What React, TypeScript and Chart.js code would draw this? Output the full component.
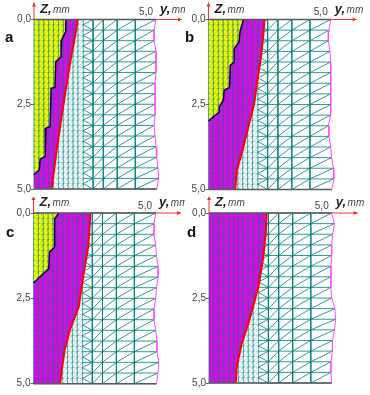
import React, { useEffect, useRef } from "react";
import { Chart, registerables } from "chart.js";

Chart.register(...registerables);

const zTicks = [0, 2.5, 5];
const yTicks = [5];

const fineCols = [0, 0.2, 0.4, 0.6, 0.8, 1.0, 1.2, 1.4, 1.6, 1.8, 2.02];
const coarseCols = [2.42, 2.84, 3.41, 4.15];
const coarseRows = [0, 0.3125, 0.625, 0.9375, 1.25, 1.5625, 1.875, 2.1875, 2.5, 2.8125, 3.125, 3.4375, 3.75, 4.0625, 4.375, 4.6875, 5];

const edgeA = [5.0, 4.92, 4.92, 5.0, 5.0, 5.0, 4.96, 4.96, 4.96, 4.96, 4.92, 4.96, 5.0, 5.03, 5.08, 5.11, 5.03];
const edgeB = [5.0, 4.93, 4.9, 4.97, 5.0, 5.0, 5.0, 5.0, 5.0, 5.0, 4.9, 4.93, 5.0, 5.04, 5.11, 5.13, 5.04];
const edgeC = [5.03, 4.96, 4.96, 5.03, 5.06, 5.13, 5.13, 5.06, 5.03, 4.96, 4.96, 5.03, 5.08, 5.08, 5.16, 5.12, 5.06];
const edgeD = [5.0, 5.11, 5.04, 5.0, 5.0, 4.97, 4.97, 4.97, 5.0, 5.13, 5.16, 5.11, 5.03, 5.03, 4.97, 4.97, 5.0];

const redAx = [1.79, 1.68, 1.5, 1.3, 1.13, 0.93, 0.72];
const redAz = [0, 0.51, 1.2, 2.08, 2.87, 3.85, 5];
const redBx = [2.29, 2.25, 2.15, 2.04, 1.87, 1.63, 1.39, 1.16, 1.09];
const redBz = [0, 0.41, 1.1, 1.59, 2.47, 3.16, 3.85, 4.44, 5];
const redCx = [2.34, 2.31, 2.25, 2.04, 1.86, 1.49, 1.28, 1.14, 1.1];
const redCz = [0, 0.41, 1.0, 1.88, 2.75, 3.44, 4.02, 4.71, 5];
const redDx = [2.35, 2.31, 2.21, 2.04, 1.83, 1.6, 1.33, 1.13, 1.09];
const redDz = [0, 0.62, 1.3, 2.08, 2.67, 3.26, 3.85, 4.53, 5];

const navyAx = [1.3, 1.3, 1.13, 1.11, 0.89, 0.86, 0.7, 0.66, 0.49, 0.46, 0.25, 0.22, 0];
const navyAz = [0, 0.36, 0.61, 1.1, 1.25, 2.0, 2.03, 3.16, 3.2, 4.04, 4.12, 4.43, 4.58];
const navyBx = [1.43, 1.29, 1.25, 1.06, 1.05, 0.89, 0.86, 0.64, 0.61, 0.44, 0.44, 0];
const navyBz = [0, 0.36, 0.66, 0.85, 1.25, 1.35, 2.0, 2.08, 2.37, 2.57, 2.72, 2.98];
const navyCx = [1.05, 0.87, 0.87, 0.66, 0.63, 0];
const navyCz = [0, 0.17, 1.0, 1.14, 1.63, 2.05];
const navyDx: number[] = [];
const navyDz: number[] = [];

const TEAL = "rgba(0,128,128,0.8)";
const TEAL_FINE = "rgba(0,128,128,0.45)";
const TEAL_DIAG = "rgba(0,128,128,0.55)";
const FONT = "'Liberation Sans', Arial, sans-serif";

type Pt = { x: number; y: number };
const GAP: Pt = { x: NaN, y: NaN };
const zip = (xs: number[], zs: number[]): Pt[] => xs.map((x, i) => ({ x, y: zs[i] }));
type Seg = [number, number, number, number];

function segs(list: Seg[]): Pt[] {
  const out: Pt[] = [];
  list.forEach(([a, b, c, d]) => out.push({ x: a, y: b }, { x: c, y: d }, GAP));
  return out;
}

function fineRowsOf(): number[] {
  const out: number[] = [];
  coarseRows.forEach((r, i) => {
    out.push(r);
    if (i < coarseRows.length - 1) out.push((r + coarseRows[i + 1]) / 2);
  });
  return out;
}

function fineGrid(): Pt[] {
  const s: Seg[] = [];
  const fine = fineRowsOf();
  const lastFine = fineCols[fineCols.length - 1];
  fine.forEach((r) => s.push([0, r, lastFine, r]));
  fineCols.forEach((c) => s.push([c, 0, c, 5]));
  return segs(s);
}

function fineDiagonals(): Pt[] {
  const s: Seg[] = [];
  const fine = fineRowsOf();
  for (let i = 0; i < fineCols.length - 1; i++) {
    for (let j = 0; j < fine.length - 1; j++) {
      s.push([fineCols[i], fine[j + 1], fineCols[i + 1], fine[j]]);
    }
  }
  return segs(s);
}

function coarseGrid(edge: number[]): Pt[] {
  const s: Seg[] = [];
  const lastFine = fineCols[fineCols.length - 1];
  const firstCoarse = coarseCols[0];
  coarseRows.forEach((r, j) => s.push([lastFine, r, edge[j], r]));
  coarseCols.forEach((c) => s.push([c, 0, c, 5]));
  for (let j = 0; j < coarseRows.length - 1; j++) {
    const mid = (coarseRows[j] + coarseRows[j + 1]) / 2;
    s.push([lastFine, mid, firstCoarse, coarseRows[j]]);
    s.push([lastFine, mid, firstCoarse, coarseRows[j + 1]]);
  }
  for (let j = 0; j < coarseRows.length - 1; j++) {
    for (let i = 0; i < coarseCols.length; i++) {
      const nextTop = i + 1 < coarseCols.length ? coarseCols[i + 1] : edge[j];
      s.push([coarseCols[i], coarseRows[j + 1], nextTop, coarseRows[j]]);
    }
  }
  return segs(s);
}

type PanelDef = {
  letter: string;
  left: number;
  top: number;
  w: number;
  h: number;
  area: { l: number; t: number; r: number; b: number };
  letterX: number;
  letterY: number;
  edge: number[];
  redX: number[];
  redZ: number[];
  navyX: number[];
  navyZ: number[];
};

const panels: PanelDef[] = [
  { letter: "a", left: 0, top: 0, w: 185, h: 197, area: { l: 34, t: 19.5, r: 156, b: 189 }, letterX: 5, letterY: 42, edge: edgeA, redX: redAx, redZ: redAz, navyX: navyAx, navyZ: navyAz },
  { letter: "b", left: 185, top: 0, w: 185, h: 197, area: { l: 23.5, t: 19.5, r: 145.7, b: 189.5 }, letterX: 0, letterY: 42, edge: edgeB, redX: redBx, redZ: redBz, navyX: navyBx, navyZ: navyBz },
  { letter: "c", left: 0, top: 197, w: 185, h: 198, area: { l: 33.5, t: 16, r: 155, b: 186.7 }, letterX: 6, letterY: 40, edge: edgeC, redX: redCx, redZ: redCz, navyX: navyCx, navyZ: navyCz },
  { letter: "d", left: 185, top: 197, w: 185, h: 198, area: { l: 24, t: 16, r: 146.7, b: 186 }, letterX: 2, letterY: 40, edge: edgeD, redX: redDx, redZ: redDz, navyX: navyDx, navyZ: navyDz },
];

function buildDatasets(p: PanelDef) {
  const redPts = zip(p.redX, p.redZ);
  const navyPts = zip(p.navyX, p.navyZ);
  const magentaPoly: Pt[] = navyPts.length
    ? [...navyPts, { x: 0, y: 5 }, ...[...redPts].reverse()]
    : [{ x: 0, y: 0 }, ...redPts, { x: 0, y: 5 }];
  const yellowPoly: Pt[] = navyPts.length ? [{ x: 0, y: 0 }, ...navyPts] : [];
  const edgePts = zip(p.edge, coarseRows);
  const last = p.edge.length - 1;
  const frame = segs([
    [0, 0, p.edge[0], 0],
    [0, 5, p.edge[last], 5],
  ]);
  const base = { showLine: true, pointRadius: 0, tension: 0, clip: false as any, spanGaps: false };
  const sets: any[] = [
    { ...base, label: "plastic", data: yellowPoly, fill: "shape", backgroundColor: "#ffff00", borderWidth: 0 },
    { ...base, label: "elastic", data: magentaPoly, fill: "shape", backgroundColor: "#ee00ee", borderWidth: 0 },
    { ...base, label: "fine grid", data: fineGrid(), fill: false, borderColor: TEAL_FINE, borderWidth: 0.7 },
    { ...base, label: "fine diagonals", data: fineDiagonals(), fill: false, borderColor: TEAL_DIAG, borderWidth: 0.6 },
    { ...base, label: "coarse grid", data: coarseGrid(p.edge), fill: false, borderColor: TEAL, borderWidth: 1 },
    { ...base, label: "navy", data: navyPts, fill: false, borderColor: "#00005a", borderWidth: 1.5 },
    { ...base, label: "red", data: redPts, fill: false, borderColor: "#ff0000", borderWidth: 2 },
    { ...base, label: "edge", data: edgePts, fill: false, borderColor: "#ff4dff", borderWidth: 1 },
    { ...base, label: "frame", data: frame, fill: false, borderColor: "#5a5a5a", borderWidth: 1.5 },
  ];
  sets.forEach((s, i) => (s.order = sets.length - i));
  return sets;
}

function arrow(ctx: CanvasRenderingContext2D, x1: number, y1: number, x2: number, y2: number) {
  ctx.strokeStyle = "#f03030";
  ctx.fillStyle = "#f03030";
  ctx.lineWidth = 1;
  ctx.beginPath();
  ctx.moveTo(x1, y1);
  ctx.lineTo(x2, y2);
  ctx.stroke();
  const dx = Math.sign(x2 - x1);
  const dy = Math.sign(y2 - y1);
  ctx.beginPath();
  ctx.moveTo(x2, y2);
  ctx.lineTo(x2 - dx * 4 - dy * 2, y2 - dy * 4 - dx * 2);
  ctx.lineTo(x2 - dx * 4 + dy * 2, y2 - dy * 4 + dx * 2);
  ctx.closePath();
  ctx.fill();
}

function labelPlugin(p: PanelDef) {
  return {
    id: "panelLabels",
    afterDraw(chart: any) {
      const { ctx, scales } = chart;
      const x0 = scales.x.getPixelForValue(0);
      const x5 = scales.x.getPixelForValue(5);
      const z0 = scales.y.getPixelForValue(0);
      ctx.save();
      arrow(ctx, x0, z0, x0, z0 - 17);
      arrow(ctx, x5, z0, x5 + 26, z0);
      ctx.textBaseline = "alphabetic";
      ctx.textAlign = "left";
      const word = (xStart: number, letter: string) => {
        let x = xStart;
        const y = z0 - 7;
        ctx.fillStyle = "#222222";
        ctx.font = `italic bold 13px ${FONT}`;
        ctx.fillText(letter + ",", x, y);
        x += ctx.measureText(letter + ",").width + 1.5;
        ctx.fillStyle = "#444444";
        ctx.font = `italic 10px ${FONT}`;
        ctx.fillText("mm", x, y);
      };
      word(x0 + 6, "Z");
      word(x5 + 4, "y");
      ctx.fillStyle = "#111111";
      ctx.font = `bold 15px ${FONT}`;
      ctx.fillText(p.letter, p.letterX, p.letterY);
      ctx.restore();
    },
  };
}

function Panel({ def }: { def: PanelDef }) {
  const ref = useRef<HTMLCanvasElement | null>(null);
  useEffect(() => {
    if (!ref.current) return;
    const { l, t, r, b } = def.area;
    const fmt = (v: any) => Number(v).toFixed(1).replace(".", ",");
    const tickFont = { family: FONT, size: 10 };
    const chart = new Chart(ref.current, {
      type: "scatter",
      data: { datasets: buildDatasets(def) },
      options: {
        responsive: false,
        animation: false,
        layout: { autoPadding: false, padding: { left: 0, top: 0, right: def.w - r, bottom: def.h - b } },
        plugins: { legend: { display: false }, tooltip: { enabled: false } },
        events: [],
        scales: {
          x: {
            type: "linear",
            position: "top",
            min: 0,
            max: 5,
            afterBuildTicks: (s: any) => {
              s.ticks = yTicks.map((value) => ({ value }));
            },
            afterFit: (s: any) => {
              s.height = t;
            },
            grid: { drawOnChartArea: false, drawTicks: false },
            border: { display: false },
            ticks: { callback: fmt, font: tickFont, color: "#444444", align: "end", padding: 1, maxRotation: 0, labelOffset: -3, autoSkip: false },
          },
          y: {
            type: "linear",
            reverse: true,
            min: 0,
            max: 5,
            afterBuildTicks: (s: any) => {
              s.ticks = zTicks.map((value) => ({ value }));
            },
            afterFit: (s: any) => {
              s.width = l;
            },
            grid: { drawOnChartArea: false, drawTicks: true, tickLength: 3, color: "#666666" },
            border: { display: false },
            ticks: { callback: fmt, font: tickFont, color: "#444444", padding: 0, autoSkip: false },
          },
        },
      } as any,
      plugins: [labelPlugin(def)],
    } as any);
    return () => chart.destroy();
  }, [def]);
  return (
    <canvas
      ref={ref}
      width={def.w}
      height={def.h}
      style={{ position: "absolute", left: def.left, top: def.top, width: def.w, height: def.h, display: "block" }}
    />
  );
}

export default function App() {
  return (
    <div style={{ position: "absolute", left: 0, top: 0, width: 370, height: 395, background: "#ffffff", overflow: "hidden" }}>
      {panels.map((p) => (
        <Panel key={p.letter} def={p} />
      ))}
    </div>
  );
}
